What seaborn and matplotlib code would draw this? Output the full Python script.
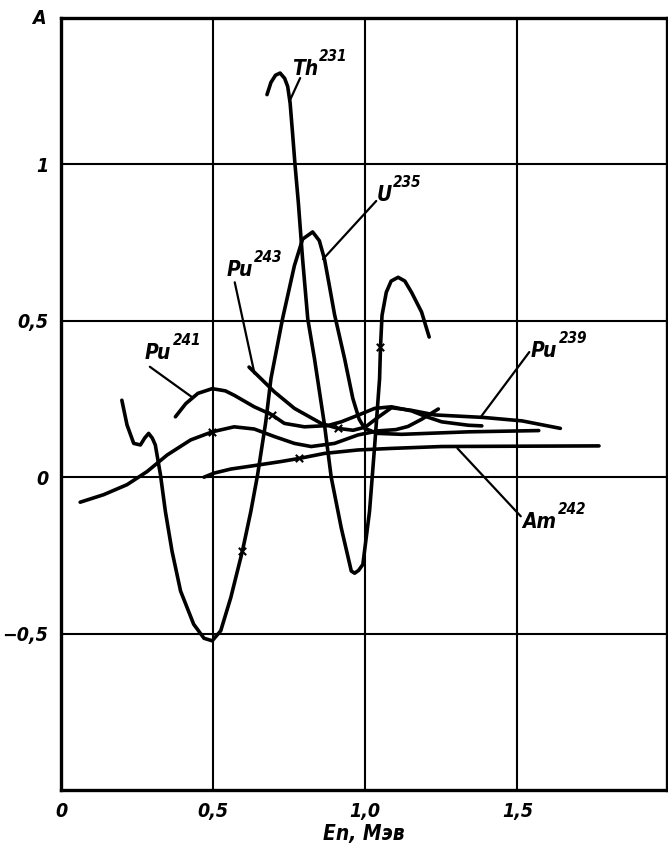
import matplotlib
matplotlib.use('Agg')
import matplotlib.pyplot as plt
import seaborn as sns

sns.set_style('white')
plt.rcParams['font.family'] = ['DejaVu Sans']

# curves (En, MeV ; A)
th231_x = [0.677, 0.69, 0.705, 0.72, 0.735, 0.745, 0.753, 0.761, 0.769, 0.78, 0.794, 0.811, 0.833,
           0.866, 0.888, 0.921, 0.954, 0.965, 0.978, 0.992, 1.014, 1.031, 1.047, 1.05, 1.055, 1.069,
           1.085, 1.108, 1.13, 1.152, 1.185, 1.21]
th231_y = [1.223, 1.262, 1.285, 1.292, 1.275, 1.249, 1.196, 1.10, 1.0, 0.878, 0.697, 0.506, 0.379,
           0.167, 0.0, -0.162, -0.30, -0.307, -0.298, -0.279, -0.109, 0.103, 0.315, 0.416, 0.517, 0.591,
           0.627, 0.639, 0.627, 0.591, 0.528, 0.448]

u235_x = [0.2, 0.217, 0.239, 0.261, 0.275, 0.288, 0.3, 0.31, 0.327, 0.343, 0.365, 0.393, 0.436, 0.47,
          0.497, 0.525, 0.558, 0.596, 0.624, 0.646, 0.673, 0.69, 0.728, 0.767, 0.794, 0.827, 0.849,
          0.866, 0.882, 0.899, 0.932, 0.959, 0.98, 0.998, 1.04, 1.12, 1.34, 1.57]
u235_y = [0.246, 0.167, 0.108, 0.103, 0.125, 0.14, 0.125, 0.103, 0.007, -0.109, -0.237, -0.364, -0.47,
          -0.515, -0.523, -0.491, -0.385, -0.237, -0.109, 0.007, 0.177, 0.315, 0.506, 0.676, 0.761,
          0.784, 0.756, 0.697, 0.612, 0.52, 0.379, 0.252, 0.185, 0.156, 0.14, 0.137, 0.145, 0.149]

pu243_x = [0.618, 0.657, 0.701, 0.767, 0.855, 0.91, 0.96, 1.0, 1.04, 1.086, 1.15, 1.229, 1.388, 1.515, 1.641]
pu243_y = [0.352, 0.315, 0.273, 0.22, 0.172, 0.156, 0.15, 0.16, 0.19, 0.222, 0.214, 0.199, 0.191, 0.18, 0.156]

pu241_x = [0.376, 0.41, 0.45, 0.497, 0.54, 0.569, 0.635, 0.692, 0.734, 0.8, 0.877, 0.921, 0.976,
           1.031, 1.086, 1.152, 1.196, 1.251, 1.339, 1.383]
pu241_y = [0.193, 0.235, 0.268, 0.283, 0.276, 0.262, 0.225, 0.2, 0.172, 0.161, 0.165, 0.177, 0.198,
           0.22, 0.225, 0.212, 0.195, 0.177, 0.166, 0.164]

pu239_x = [0.063, 0.14, 0.217, 0.283, 0.349, 0.426, 0.497, 0.569, 0.635, 0.701, 0.767, 0.822, 0.899,
           0.976, 1.042, 1.1, 1.14, 1.185, 1.215, 1.24]
pu239_y = [-0.08, -0.056, -0.024, 0.018, 0.071, 0.119, 0.145, 0.161, 0.154, 0.13, 0.108, 0.098, 0.108,
           0.135, 0.148, 0.152, 0.162, 0.185, 0.203, 0.218]

am242_x = [0.47, 0.503, 0.558, 0.635, 0.723, 0.783, 0.866, 0.976, 1.086, 1.251, 1.5, 1.768]
am242_y = [0.0, 0.013, 0.026, 0.037, 0.05, 0.06, 0.076, 0.087, 0.092, 0.098, 0.099, 0.1]

cross_x = [0.497, 0.692, 0.596, 0.91, 1.05, 0.783]
cross_y = [0.145, 0.2, -0.237, 0.156, 0.416, 0.06]

# label text, base position, leader start, leader end
labels = [('Th', '231', 0.758, 1.287, (0.786, 1.276), (0.751, 1.202)),
          ('U', '235', 1.036, 0.882, (1.036, 0.883), (0.861, 0.697)),
          ('Pu', '243', 0.544, 0.644, (0.571, 0.623), (0.636, 0.331)),
          ('Pu', '241', 0.276, 0.379, (0.292, 0.353), (0.429, 0.257)),
          ('Pu', '239', 1.544, 0.384, (1.539, 0.40), (1.38, 0.193)),
          ('Am', '242', 1.517, -0.162, (1.511, -0.125), (1.303, 0.092))]

xticks = [0, 0.5, 1.0, 1.5]
xtick_labels = ['0', '0,5', '1,0', '1,5']
yticks = [-0.5, 0, 0.5, 1]
ytick_labels = ['\u22120,5', '0', '0,5', '1']

fig = plt.figure(figsize=(6.68, 8.51), dpi=100)
ax = fig.add_axes([0.0913, 0.0717, 0.9065, 0.9068])

curves = [(th231_x, th231_y), (u235_x, u235_y), (pu243_x, pu243_y),
          (pu241_x, pu241_y), (pu239_x, pu239_y), (am242_x, am242_y)]
for cx, cy in curves:
    sns.lineplot(x=cx, y=cy, ax=ax, sort=False, estimator=None, color='black', lw=2.6,
                 solid_capstyle='round', zorder=3)

sns.scatterplot(x=cross_x, y=cross_y, ax=ax, marker='x', color='black', s=28, linewidth=1.5, zorder=4)

tfont = dict(style='italic', weight='bold', color='black', stretch='condensed')
for base, sup, tx, ty, p0, p1 in labels:
    ax.plot([p0[0], p1[0]], [p0[1], p1[1]], color='black', lw=1.6, zorder=3)
    t = ax.text(tx, ty, base, fontsize=15, va='baseline', ha='left', **tfont)
    ax.annotate(sup, xy=(1.0, 0.75), xycoords=t, fontsize=11, va='bottom', ha='left',
                xytext=(1, 0), textcoords='offset points', **tfont)

ax.set_xlim(0, 1.99)
ax.set_ylim(-1, 1.467)
ax.set_xticks(xticks)
ax.set_xticklabels(xtick_labels, fontsize=14, **tfont)
ax.set_yticks(yticks)
ax.set_yticklabels(ytick_labels, fontsize=14, **tfont)
ax.tick_params(length=0, pad=9)
ax.grid(True, color='black', lw=1.5)
ax.set_axisbelow(True)
for s in ax.spines.values():
    s.set_color('black')
    s.set_linewidth(2.4)

ax.text(-0.05, 1.467, 'A', transform=ax.transData, fontsize=14, ha='right', va='center', **tfont)
ax.set_xlabel('En, Мэв', fontsize=15, labelpad=2, **tfont)
ax.set_ylabel('')

fig.savefig('out.png', dpi=100)
